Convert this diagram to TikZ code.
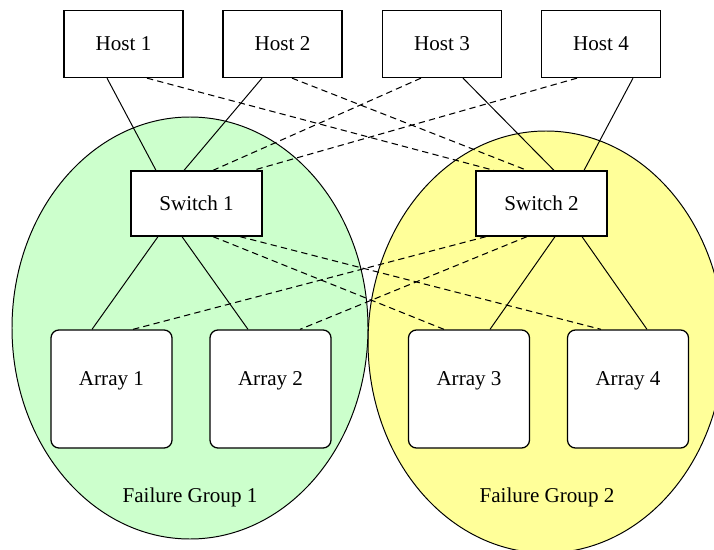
\documentclass[tikz,border=0pt]{standalone}
\usepackage{fontspec}
\setmainfont{Liberation Serif}
\usepackage{xcolor}
\usepackage{tikz}
\usetikzlibrary{calc}
\definecolor{grpgreen}{RGB}{204,255,204}
\definecolor{grpyellow}{RGB}{255,255,153}
\tikzset{
  sanhost/.style={rectangle, draw=black, line width=0.9pt, fill=white, minimum width=2.975cm,
                  minimum height=1.675cm, inner sep=0pt, font=\fontsize{15}{18}\selectfont},
  sanswitch/.style={rectangle, draw=black, line width=0.9pt, fill=white, minimum width=3.275cm,
                    minimum height=1.625cm, inner sep=0pt, font=\fontsize{15}{18}\selectfont},
  sanarray/.style={rectangle, rounded corners=0.2cm, draw=black, line width=0.9pt, fill=white,
                   minimum width=3.025cm, minimum height=2.95cm, inner sep=0pt,
                   text height=0.35cm, text depth=0.54cm, font=\fontsize{15}{18}\selectfont},
  sanwire/.style={line width=0.7pt},
  sandash/.style={line width=0.75pt, dash pattern=on 4.5pt off 3pt},
  sangrp/.style={line width=0.7pt, draw=black},
  sanlab/.style={font=\fontsize{15}{18}\selectfont}
}
\begin{document}
\begin{tikzpicture}[x=0.025cm, y=-0.025cm]
  \useasboundingbox (0,0) rectangle (714,550);
  \filldraw[sangrp, fill=grpyellow] (546,342) ellipse [x radius=178, y radius=211];
  \filldraw[sangrp, fill=grpgreen] (190,328) ellipse [x radius=178, y radius=211];
  \node[sanlab] (fg1) at (190,497) {Failure Group 1};
  \node[sanlab] (fg2) at (547,497) {Failure Group 2};
  \node[sanhost] (h1) at (123.5,44) {Host 1};
  \node[sanhost] (h2) at (282.5,44) {Host 2};
  \node[sanhost] (h3) at (442,44) {Host 3};
  \node[sanhost] (h4) at (601,44) {Host 4};
  \node[sanswitch] (s1) at (196.5,203.5) {Switch 1};
  \node[sanswitch] (s2) at (541.5,203.5) {Switch 2};
  \node[sanarray] (a1) at (111.5,389) {Array 1};
  \node[sanarray] (a2) at (270.5,389) {Array 2};
  \node[sanarray] (a3) at (469,389) {Array 3};
  \node[sanarray] (a4) at (628,389) {Array 4};
  \draw[sanwire] ($(h1.south)+(-16.5,0)$) -- ($(s1.north)+(-40.5,0)$);
  \draw[sanwire] ($(h2.south)+(-20.5,0)$) -- ($(s1.north)+(-12.5,0)$);
  \draw[sanwire] ($(h3.south)+(21,0)$) -- ($(s2.north)+(12.5,0)$);
  \draw[sanwire] ($(h4.south)+(32,0)$) -- ($(s2.north)+(42.5,0)$);
  \draw[sandash] ($(h1.south)+(23.5,0)$) -- ($(s2.north)+(-47.5,0)$);
  \draw[sandash] ($(h2.south)+(9.5,0)$) -- ($(s2.north)+(-14.5,0)$);
  \draw[sandash] ($(h3.south)+(-21,0)$) -- ($(s1.north)+(16.5,0)$);
  \draw[sandash] ($(h4.south)+(-24,0)$) -- ($(s1.north)+(56.5,0)$);
  \draw[sanwire] ($(s1.south)+(-38.5,0)$) -- ($(a1.north)+(-19.5,0)$);
  \draw[sanwire] ($(s1.south)+(-14.5,0)$) -- ($(a2.north)+(-22.5,0)$);
  \draw[sanwire] ($(s2.south)+(13.5,0)$) -- ($(a3.north)+(21,0)$);
  \draw[sanwire] ($(s2.south)+(40.5,0)$) -- ($(a4.north)+(19,0)$);
  \draw[sandash] ($(s1.south)+(16.5,0)$) -- ($(a3.north)+(-25,0)$);
  \draw[sandash] ($(s1.south)+(43.5,0)$) -- ($(a4.north)+(-27,0)$);
  \draw[sandash] ($(s2.south)+(-55.5,0)$) -- ($(a1.north)+(21.5,0)$);
  \draw[sandash] ($(s2.south)+(-14.5,0)$) -- ($(a2.north)+(29.5,0)$);
\end{tikzpicture}
\end{document}
